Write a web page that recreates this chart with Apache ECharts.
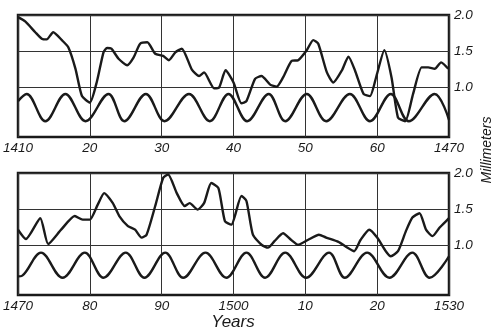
<!DOCTYPE html>
<html>
<head>
<meta charset="utf-8">
<script src="https://cdn.jsdelivr.net/npm/echarts@6/dist/echarts.min.js"></script>
<style>
  html, body { margin: 0; padding: 0; background: #fff; }
  #chart { width: 500px; height: 332px; }
</style>
</head>
<body>
<div id="chart"></div>
<script>
// Tree-ring widths (mm) by year, 1410–1470
const ringYears1 = [1410.0, 1411.0, 1412.4, 1413.3, 1414.0, 1414.9, 1416.1, 1417.0, 1418.0, 1418.9,
  1420.0, 1421.0, 1421.9, 1422.4, 1423.0, 1424.0, 1425.2, 1426.1, 1427.0, 1428.0,
  1429.1, 1430.2, 1431.0, 1431.9, 1432.8, 1434.2, 1435.2, 1435.9, 1437.3, 1438.0,
  1438.9, 1440.0, 1441.1, 1441.8, 1443.0, 1443.9, 1445.1, 1446.0, 1446.9, 1448.1,
  1449.0, 1450.2, 1451.1, 1451.8, 1453.0, 1453.9, 1455.1, 1456.0, 1456.9, 1458.1,
  1459.0, 1459.9, 1461.0, 1462.0, 1462.9, 1463.9, 1465.0, 1466.2, 1467.1, 1468.0,
  1468.9, 1469.9];
const ringMm1 = [1.97, 1.91, 1.76, 1.67, 1.66, 1.76, 1.65, 1.55, 1.25, 0.87,
  0.78, 1.08, 1.48, 1.54, 1.53, 1.39, 1.30, 1.41, 1.60, 1.62,
  1.46, 1.43, 1.37, 1.48, 1.53, 1.24, 1.15, 1.20, 0.98, 0.99,
  1.23, 1.06, 0.77, 0.80, 1.11, 1.15, 1.03, 1.00, 1.13, 1.36,
  1.37, 1.51, 1.65, 1.60, 1.20, 1.06, 1.23, 1.42, 1.23, 0.90,
  0.87, 1.15, 1.51, 1.13, 0.57, 0.52, 0.90, 1.27, 1.27, 1.25,
  1.34, 1.25];

// Periodic reference curve, 1410–1470 (turning points)
const cycleYears1 = [1410.0, 1411.2, 1413.8, 1416.6, 1419.4, 1422.6, 1424.8, 1427.8, 1430.4, 1433.8,
  1436.7, 1439.3, 1441.9, 1444.9, 1447.2, 1450.2, 1452.9, 1456.2, 1459.0, 1461.9,
  1464.4, 1468.0, 1470.0];
const cycleVals1 = [0.80, 0.90, 0.52, 0.90, 0.52, 0.90, 0.52, 0.90, 0.52, 0.90,
  0.52, 0.90, 0.52, 0.90, 0.52, 0.90, 0.52, 0.90, 0.52, 0.90,
  0.52, 0.90, 0.54];

// Tree-ring widths (mm) by year, 1470–1530
const ringYears2 = [1470.0, 1471.1, 1473.1, 1474.2, 1476.0, 1477.9, 1479.0, 1480.0, 1481.1, 1482.0,
  1483.2, 1484.1, 1485.3, 1486.3, 1487.2, 1487.9, 1489.1, 1490.2, 1490.9, 1492.1,
  1493.2, 1493.9, 1495.0, 1495.9, 1496.9, 1497.9, 1498.8, 1499.7, 1501.1, 1501.8,
  1502.7, 1503.9, 1504.8, 1505.7, 1506.9, 1508.0, 1509.0, 1510.4, 1511.9, 1512.9,
  1514.6, 1515.7, 1516.8, 1517.7, 1518.9, 1520.0, 1521.2, 1521.9, 1522.9, 1524.0,
  1524.9, 1525.9, 1526.8, 1527.7, 1528.7, 1529.8, 1530.0];
const ringMm2 = [1.21, 1.08, 1.37, 1.01, 1.21, 1.40, 1.35, 1.35, 1.56, 1.72,
  1.58, 1.40, 1.26, 1.21, 1.10, 1.14, 1.54, 1.93, 1.98, 1.72,
  1.54, 1.58, 1.49, 1.58, 1.86, 1.79, 1.33, 1.28, 1.68, 1.61,
  1.14, 1.00, 0.96, 1.05, 1.16, 1.07, 1.00, 1.07, 1.14, 1.10,
  1.04, 0.97, 0.91, 1.07, 1.21, 1.10, 0.91, 0.84, 0.91, 1.19,
  1.38, 1.44, 1.21, 1.12, 1.24, 1.35, 1.37];

// Periodic reference curve, 1470–1530 (turning points)
const cycleYears2 = [1470.0, 1470.6, 1473.2, 1476.2, 1479.3, 1481.9, 1485.0, 1487.6, 1490.5, 1493.0,
  1496.1, 1499.0, 1501.8, 1504.4, 1507.2, 1510.1, 1513.3, 1515.5, 1518.6, 1521.7,
  1524.9, 1527.3, 1530.0];
const cycleVals2 = [0.56, 0.57, 0.89, 0.54, 0.89, 0.54, 0.89, 0.54, 0.89, 0.54,
  0.89, 0.54, 0.89, 0.54, 0.89, 0.54, 0.89, 0.54, 0.89, 0.54,
  0.89, 0.54, 0.84];

// Axis ticks and labels
const yLabelValues = [1.0, 1.5, 2.0];
const xLabels1 = { 1410: '1410', 1420: '20', 1430: '30', 1440: '40', 1450: '50', 1460: '60', 1470: '1470' };
const xLabels2 = { 1470: '1470', 1480: '80', 1490: '90', 1500: '1500', 1510: '10', 1520: '20', 1530: '1530' };

const pairs = (xs, ys) => xs.map((x, i) => [x, ys[i]]);

const FONT = 'Liberation Sans';
const INK = '#1a1a1a';

function xAxis(gridIndex, start, labels) {
  return {
    type: 'value', gridIndex, min: start, max: start + 60, interval: 10,
    axisLine: { show: false }, axisTick: { show: false },
    splitLine: { show: true, lineStyle: { color: '#333', width: 1 } },
    axisLabel: {
      margin: 4, color: INK, fontFamily: FONT, fontStyle: 'italic', fontSize: 13.5,
      formatter: v => labels[v] || ''
    }
  };
}

function yAxis(gridIndex) {
  return {
    type: 'value', gridIndex, position: 'right', min: 0.3, max: 2.0,
    axisLine: { show: false },
    axisTick: { show: false, customValues: yLabelValues },
    splitLine: { show: true, lineStyle: { color: '#333', width: 1 } },
    axisLabel: {
      customValues: yLabelValues, margin: 5, padding: [8, 0, 0, 0],
      color: INK, fontFamily: FONT, fontStyle: 'italic', fontSize: 13.5,
      formatter: v => v.toFixed(1)
    }
  };
}

function line(idx, data, smooth, width) {
  return {
    type: 'line', xAxisIndex: idx, yAxisIndex: idx, data, smooth,
    showSymbol: false, silent: true,
    lineStyle: { color: INK, width }
  };
}

const chart = echarts.init(document.getElementById('chart'), null, { renderer: 'canvas' });
chart.setOption({
  animation: false,
  backgroundColor: '#fff',
  grid: [
    { left: 18, top: 15, width: 431, height: 122, show: true, borderColor: INK, borderWidth: 2.5, backgroundColor: 'transparent' },
    { left: 18, top: 173, width: 431, height: 122, show: true, borderColor: INK, borderWidth: 2.5, backgroundColor: 'transparent' }
  ],
  xAxis: [xAxis(0, 1410, xLabels1), xAxis(1, 1470, xLabels2)],
  yAxis: [yAxis(0), yAxis(1)],
  series: [
    line(0, pairs(ringYears1, ringMm1), 0.2, 2.4),
    line(0, pairs(cycleYears1, cycleVals1), 0.36, 2.4),
    line(1, pairs(ringYears2, ringMm2), 0.2, 2.4),
    line(1, pairs(cycleYears2, cycleVals2), 0.36, 2.4)
  ],
  graphic: [
    {
      type: 'text', x: 487, y: 150, rotation: Math.PI / 2,
      style: { text: 'Millimeters', fill: INK, font: 'italic 14px "Liberation Sans"', align: 'center', verticalAlign: 'middle' }
    },
    {
      type: 'text', x: 233, y: 322,
      style: { text: 'Years', fill: INK, font: 'italic 17px "Liberation Sans"', align: 'center', verticalAlign: 'middle' }
    }
  ]
});
</script>
</body>
</html>
